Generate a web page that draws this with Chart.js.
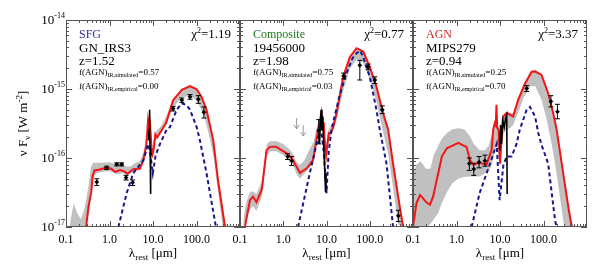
<!DOCTYPE html>
<html lang="en">
<head>
<meta charset="UTF-8">
<title>SED fits</title>
<script src="https://cdn.jsdelivr.net/npm/chart.js@4.4.1/dist/chart.umd.min.js"></script>
<style>
  body { margin: 0; background: #fff; }
  #wrap { position: relative; width: 608px; height: 270px; }
  #wrap canvas { position: absolute; left: 0; top: 0; }
</style>
</head>
<body>
<div id="wrap">
  <canvas id="p0" width="608" height="270"></canvas>
  <canvas id="p1" width="608" height="270"></canvas>
  <canvas id="p2" width="608" height="270"></canvas>
</div>
<script>
// axes
const xTickLabels = [0.1, 1, 10, 100];
const yTickPowers = [-14, -15, -16, -17];

// panel captions
const classNames = ['SFG', 'Composite', 'AGN'];
const sourceIds = ['GN_IRS3', '19456000', 'MIPS279'];
const redshifts = ['1.52', '1.98', '0.94'];
const fAgnSimulated = ['0.57', '0.75', '0.25'];
const fAgnEmpirical = ['0.00', '0.03', '0.70'];
const chiSquared = ['1.19', '0.77', '3.37'];

// ---- SFG: GN_IRS3 ----  [wavelength um, nuFnu W m-2]
const sfgTotal = [[0.29,1.0e-17],[0.33,2.0e-17],[0.38,3.2e-17],[0.41,5.5e-17],[0.45,6.6e-17],[0.6,6.8e-17],[0.86,7.3e-17],[1.1,7.0e-17],[1.34,6.3e-17],[1.74,6.7e-17],[2.2,6.4e-17],[2.6,5.9e-17],[3.5,6.9e-17],[5.0,7.0e-17],[6.0,9.3e-17],[7.0,1.5e-16],[7.7,3.5e-16],[8.2,2.6e-16],[8.6,3.0e-16],[9.2,1.4e-16],[9.8,1.15e-16],[10.5,1.4e-16],[11.3,2.2e-16],[12.5,2.0e-16],[15,2.4e-16],[20,3.2e-16],[29,6.9e-16],[46,9.7e-16],[71,1.1e-15],[101,9.9e-16],[131,7.7e-16],[170,5.0e-16],[243,1.8e-16],[312,4.8e-17],[452,1.0e-17]];
const sfgAgn = [[1.6,1e-17],[2.48,3.1e-17],[3.5,6e-17],[6.0,9.3e-17],[7.8,1.6e-16],[8.6,1.2e-16],[9.9,6e-17],[11.5,1.1e-16],[14.5,1.6e-16],[20.7,2.6e-16],[24.5,2.8e-16],[35,5e-16],[46,6.2e-16],[60,5.8e-16],[71,5e-16],[101,2.8e-16],[120,1.8e-16],[170,6e-17],[280,1e-17]];
const sfgBandWave = [0.12,0.15,0.18,0.22,0.27,0.33,0.38,0.42,0.5,0.7,1,1.5,2,2.5,3,4,5,6,7,7.7,8.5,9.7,11,13,16,20,30,45,70,100,150,200,250,300,400,500];
const sfgBandHigh = [1e-17,2.2e-17,1.6e-17,1.3e-17,1.9e-17,4e-17,7.5e-17,8.5e-17,8.5e-17,8.5e-17,8.7e-17,8e-17,8e-17,7.5e-17,7.5e-17,8.5e-17,9e-17,1.2e-16,2e-16,4e-16,3.5e-16,1.4e-16,2.3e-16,2.6e-16,3e-16,4e-16,7.2e-16,1.0e-15,1.1e-15,1.0e-15,6.5e-16,3.5e-16,1.6e-16,6e-17,1.5e-17,1e-17];
const sfgBandLow = [1e-17,1e-17,1e-17,1e-17,1e-17,1.5e-17,3e-17,5e-17,6e-17,6.3e-17,6.5e-17,5.8e-17,6e-17,5.6e-17,6e-17,6.5e-17,6.8e-17,9e-17,1.5e-16,3e-16,2.4e-16,1.0e-16,1.8e-16,1.9e-16,2.4e-16,3.2e-16,5.5e-16,7.5e-16,8e-16,7e-16,4e-16,2e-16,1e-16,4e-17,1e-17,1e-17];
const sfgPhot = [[0.51,4.5e-17,4.0e-17,5.0e-17],[0.86,7.2e-17,6.8e-17,7.6e-17],[1.47,8.1e-17,7.7e-17,8.5e-17],[1.9,8.1e-17,7.7e-17,8.5e-17],[2.4,5.2e-17,4.8e-17,5.6e-17],[3.4,4.4e-17,4.0e-17,4.8e-17],[29,5.2e-16,4.8e-16,5.6e-16],[46,6.9e-16,6.4e-16,7.4e-16],[71,7.7e-16,7.1e-16,8.3e-16],[110,7.1e-16,6.2e-16,8.0e-16],[148,4.6e-16,3.8e-16,5.5e-16]];
const sfgLimits = [];
const sfgIrs = [[7.9,1.8e-16],[8.1,2.6e-16],[8.3,5e-16],[8.45,2.2e-16],[8.6,1.4e-16],[8.75,3e-17],[8.9,1.3e-16],[9.1,1.1e-16]];

// ---- Composite: 19456000 ----
const compTotal = [[0.13,1e-17],[0.17,2.45e-17],[0.2,2.75e-17],[0.24,2.3e-17],[0.32,3.5e-17],[0.41,1.3e-16],[0.49,1.45e-16],[0.68,1.46e-16],[1.2,1.17e-16],[1.57,1.0e-16],[2.43,6.1e-17],[3.5,7.1e-17],[4.9,9.3e-17],[6.4,2.6e-16],[7.0,3.2e-16],[7.7,4.5e-16],[8.3,3e-16],[8.6,3.3e-16],[9.2,1.5e-16],[9.8,1.1e-16],[10.5,1.6e-16],[11.3,2.3e-16],[12.5,2.3e-16],[14.3,2.8e-16],[17.1,4.5e-16],[24.3,1.5e-15],[34.7,2.9e-15],[49.6,3.9e-15],[70.7,3.5e-15],[100,2.1e-15],[143,1.08e-15],[203,4.5e-16],[266,2.6e-16],[346,8.3e-17],[495,1.95e-17],[590,1e-17]];
const compAgn = [[2.2,1e-17],[4.1,6e-17],[6.4,2.0e-16],[7.7,2.3e-16],[8.7,1.2e-16],[10.0,3.1e-17],[11.2,1.2e-16],[13.1,2.6e-16],[20,8e-16],[29,1.7e-15],[40,2.8e-15],[49.6,3.3e-15],[60,3.6e-15],[70.7,2.9e-15],[100,1.5e-15],[143,5e-16],[170,2.6e-16],[244,8.3e-17],[346,1e-17]];
const compBandWave = [0.12,0.14,0.17,0.2,0.24,0.28,0.32,0.37,0.42,0.5,0.7,1.0,1.3,1.6,2.0,2.4,3.0,3.5,4.2,5.0,6.0,6.6,7.5,8.5,9.7,11,13,15,17,20,25,35,50,70,100,140,200,270,350,450,600];
const compBandHigh = [1.3e-17,2.3e-17,3.2e-17,3.3e-17,3.0e-17,3.8e-17,4.5e-17,9e-17,1.6e-16,1.75e-16,1.75e-16,1.6e-16,1.4e-16,1.2e-16,9e-17,8e-17,9e-17,1.1e-16,1.4e-16,1.7e-16,2.8e-16,3.5e-16,5e-16,4e-16,1.5e-16,2.5e-16,3e-16,3.6e-16,5e-16,8e-16,1.5e-15,2.8e-15,3.8e-15,3.4e-15,2.0e-15,1.1e-15,4.5e-16,2.4e-16,8e-17,2.5e-17,1e-17];
const compBandLow = [1e-17,1.3e-17,1.8e-17,2e-17,1.7e-17,2.2e-17,2.7e-17,6e-17,1.1e-16,1.25e-16,1.25e-16,1.1e-16,1.0e-16,8.5e-17,6e-17,5e-17,5.8e-17,6.5e-17,7.5e-17,9e-17,1.6e-16,2.2e-16,3.2e-16,2.2e-16,8e-17,1.6e-16,2.2e-16,2.7e-16,3.5e-16,5.5e-16,1.0e-15,2.0e-15,2.7e-15,2.4e-15,1.4e-15,7e-16,2.5e-16,1.1e-16,3.5e-17,1.1e-17,1e-17];
const compPhot = [[1.26,1.05e-16,9.5e-17,1.15e-16],[1.56,9.1e-17,7.8e-17,1.05e-16],[6.6,2.5e-16,1.6e-16,3.6e-16],[25,1.55e-15,1.4e-15,1.7e-15],[59,2.2e-15,1.35e-15,2.6e-15],[92,2.1e-15,1.9e-15,2.3e-15],[131,1.35e-15,1.2e-15,1.5e-15],[195,5e-16,4.4e-16,5.7e-16],[457,1.45e-17,1.2e-17,1.75e-17]];
const compLimits = [[2.04,3.8e-16],[2.9,3.0e-16]];
const compIrs = [[6.9,1.6e-16],[7.2,3.2e-16],[7.5,5e-16],[7.8,2.5e-16],[8.2,4e-16],[8.6,1.6e-16],[9.0,8e-17],[9.5,3.2e-17],[9.8,6e-17]];

// ---- AGN: MIPS279 ----
const agnTotal = [[0.1,1e-17],[0.12,2.2e-17],[0.145,2.9e-17],[0.17,2.6e-17],[0.2,2.3e-17],[0.245,2.1e-17],[0.29,2.75e-17],[0.38,6e-17],[0.46,1.05e-16],[0.6,1.38e-16],[0.79,1.5e-16],[1.1,1.66e-16],[1.34,1.55e-16],[1.7,1.45e-16],[2.04,9.3e-17],[2.4,8e-17],[3.4,8.5e-17],[4.9,8e-17],[6.4,1.3e-16],[7.0,2.6e-16],[7.6,3.2e-16],[8.0,3.0e-16],[8.3,5.9e-16],[8.6,2.8e-16],[9.3,2.5e-16],[10,8.3e-17],[10.8,1.8e-16],[11.9,4e-16],[14.2,4.5e-16],[20,4e-16],[26,6.9e-16],[37.6,1.2e-15],[53.6,1.78e-15],[64,1.8e-15],[90,1.6e-15],[128,8.7e-16],[167,4.5e-16],[200,2.6e-16],[284,6e-17],[372,1.95e-17],[445,1e-17]];
const agnAgn = [[2.23,1e-17],[3.4,3.1e-17],[5.9,8.3e-17],[8.4,1.6e-16],[9.8,2.45e-17],[12,8e-17],[14.2,1.05e-16],[18.5,1.05e-16],[24,1.6e-16],[28.6,2.6e-16],[41,5e-16],[48.8,5.5e-16],[64,4e-16],[76,2.3e-16],[90,1.55e-16],[128,8.3e-17],[184,1.26e-17],[200,1e-17]];
const agnBandWave = [0.1,0.12,0.15,0.2,0.25,0.3,0.38,0.46,0.6,0.8,1.1,1.5,2.0,2.5,3.4,4.5,5.5,6.5,7.5,8.3,9.0,10,11,12,14,17,20,26,35,50,65,90,120,160,200,250,300,400,500];
const agnBandHigh = [6e-17,8e-17,9e-17,7e-17,7e-17,1.1e-16,1.5e-16,1.9e-16,2.3e-16,2.6e-16,2.7e-16,2.6e-16,2.1e-16,1.6e-16,1.3e-16,1.3e-16,1.5e-16,2.2e-16,3.5e-16,4.5e-16,3e-16,1.6e-16,2.5e-16,4.2e-16,4.7e-16,4.5e-16,4.5e-16,7e-16,1.15e-15,1.8e-15,1.85e-15,1.6e-15,1.0e-15,5e-16,2.7e-16,1.1e-16,5e-17,1.5e-17,1e-17];
const agnBandLow = [1e-17,1e-17,1e-17,1e-17,1.1e-17,1.3e-17,1.6e-17,2.2e-17,3.2e-17,4.3e-17,5e-17,5.3e-17,5.4e-17,5.4e-17,5.4e-17,6e-17,6.5e-17,8e-17,1.2e-16,1.5e-16,1.2e-16,8e-17,1.4e-16,2.2e-16,2.6e-16,2.7e-16,3e-16,4.5e-16,7.5e-16,1.1e-15,1.1e-15,7e-16,3.5e-16,1.4e-16,6e-17,2.2e-17,1e-17,1e-17,1e-17];
const agnPhot = [[1.97,8.3e-17,6.6e-17,1.0e-16],[2.5,6.9e-17,5.6e-17,8.4e-17],[3.3,8.7e-17,7.2e-17,1.05e-16],[4.5,9.1e-17,7.6e-17,1.1e-16],[41,1.02e-15,9.2e-16,1.12e-15],[148,6.6e-16,5.5e-16,8e-16],[209,4.7e-16,3.7e-16,6e-16]];
const agnLimits = [];
const agnIrs = [[9.8,1.3e-16],[10.3,3e-16],[10.8,1.6e-16],[11.5,3.5e-16],[12.5,2.8e-16],[13.5,3.8e-16],[14.3,4.2e-16],[14.6,3e-17]];

const SERIF = "'Liberation Serif', 'DejaVu Serif', serif";
const RED = '#f31515', BLUE = '#16168c', GREY = '#c0c0c0';
const classColors = ['#2f2f9f', '#1c7a1c', '#d12a2a'];
const panelLeft = [66, 240, 413];
const panelRight = [240, 413, 587];

const toXY = arr => arr.map(p => ({ x: p[0], y: p[1] }));
const zip = (xs, ys) => xs.map((x, i) => ({ x, y: ys[i] }));

function rich(ctx, x, y, parts, align) {
  let w = 0;
  parts.forEach(([t, s]) => { ctx.font = s + 'px ' + SERIF; w += ctx.measureText(t).width; });
  let cx = align === 'right' ? x - w : align === 'center' ? x - w / 2 : x;
  parts.forEach(([t, s, dy, col]) => {
    ctx.font = s + 'px ' + SERIF;
    ctx.fillStyle = col || '#000';
    ctx.fillText(t, cx, y + (dy || 0));
    cx += ctx.measureText(t).width;
  });
}

const framePlugin = {
  id: 'frame',
  afterDatasetsDraw(chart, args, opts) {
    const { ctx, chartArea: a, scales: { x, y } } = chart;
    const i = opts.panel;
    ctx.save();
    ctx.textBaseline = 'alphabetic';
    ctx.textAlign = 'left';

    // error bars and upper limits
    chart.data.datasets.forEach(ds => {
      if (ds.errors) {
        ctx.strokeStyle = '#000'; ctx.lineWidth = 1;
        ds.errors.forEach((e, k) => {
          const px = x.getPixelForValue(ds.data[k].x);
          const lo = y.getPixelForValue(e[0]), hi = y.getPixelForValue(e[1]);
          ctx.beginPath();
          ctx.moveTo(px, lo); ctx.lineTo(px, hi);
          ctx.moveTo(px - 2.5, lo); ctx.lineTo(px + 2.5, lo);
          ctx.moveTo(px - 2.5, hi); ctx.lineTo(px + 2.5, hi);
          ctx.stroke();
        });
      }
      if (ds.limits) {
        ctx.strokeStyle = '#999'; ctx.lineWidth = 1;
        ds.data.forEach(d => {
          const px = x.getPixelForValue(d.x), py = y.getPixelForValue(d.y);
          ctx.beginPath();
          ctx.moveTo(px, py); ctx.lineTo(px, py + 11);
          ctx.moveTo(px - 2.5, py + 7); ctx.lineTo(px, py + 11); ctx.lineTo(px + 2.5, py + 7);
          ctx.stroke();
        });
      }
    });

    // frame and inward ticks on all sides
    ctx.strokeStyle = '#555'; ctx.lineWidth = 1;
    ctx.strokeRect(a.left + 0.5, a.top + 0.5, a.right - a.left - 1, a.bottom - a.top - 1);
    ctx.beginPath();
    for (let e = -1; e < 3; e++) for (let m = 1; m <= 9; m++) {
      const px = Math.round(x.getPixelForValue(m * Math.pow(10, e))) + 0.5;
      const len = m === 1 ? 6 : 3;
      ctx.moveTo(px, a.bottom); ctx.lineTo(px, a.bottom - len);
      ctx.moveTo(px, a.top); ctx.lineTo(px, a.top + len);
    }
    for (let e = -17; e < -14; e++) for (let m = 1; m <= 9; m++) {
      const py = Math.round(y.getPixelForValue(m * Math.pow(10, e))) + 0.5;
      const len = m === 1 ? 6 : 3;
      ctx.moveTo(a.left, py); ctx.lineTo(a.left + len, py);
      ctx.moveTo(a.right, py); ctx.lineTo(a.right - len, py);
    }
    ctx.stroke();

    // y tick labels and title on the first panel
    if (i === 0) {
      yTickPowers.forEach(p => {
        const py = y.getPixelForValue(Math.pow(10, p));
        rich(ctx, a.left - 1, py + 4, [['10', 13, 0], [String(p), 8, -6]], 'right');
      });
      ctx.save();
      ctx.translate(27, (a.top + a.bottom) / 2);
      ctx.rotate(-Math.PI / 2);
      rich(ctx, 0, 0, [['\u03bd F', 13, 0], ['\u03bd', 9, 3], [' [W m', 13, 0], ['-2', 9, -5], [']', 13, 0]], 'center');
      ctx.restore();
    }

    // x title
    rich(ctx, (a.left + a.right) / 2, 257, [['\u03bb', 13, 0], ['rest', 9, 3], [' [\u03bcm]', 13, 0]], 'center');

    // captions
    const lx = a.left + 13;
    rich(ctx, lx, a.top + 18, [[classNames[i], 12, 0, classColors[i]]]);
    rich(ctx, lx, a.top + 32, [[sourceIds[i], 13, 0]]);
    rich(ctx, lx, a.top + 45, [['z=' + redshifts[i], 13, 0]]);
    rich(ctx, lx, a.top + 55, [['f(AGN)', 9, 0], ['IR,simulated', 6, 2], ['=' + fAgnSimulated[i], 9, 0]]);
    rich(ctx, lx, a.top + 69, [['f(AGN)', 9, 0], ['IR,empirical', 6, 2], ['=' + fAgnEmpirical[i], 9, 0]]);
    rich(ctx, a.right - 9, a.top + 18, [['\u03c7', 13, 0], ['2', 8, -5], ['=' + chiSquared[i], 13, 0]], 'right');
    ctx.restore();
  }
};

const panels = [
  { total: sfgTotal, agn: sfgAgn, bw: sfgBandWave, bh: sfgBandHigh, bl: sfgBandLow, phot: sfgPhot, lim: sfgLimits, irs: sfgIrs },
  { total: compTotal, agn: compAgn, bw: compBandWave, bh: compBandHigh, bl: compBandLow, phot: compPhot, lim: compLimits, irs: compIrs },
  { total: agnTotal, agn: agnAgn, bw: agnBandWave, bh: agnBandHigh, bl: agnBandLow, phot: agnPhot, lim: agnLimits, irs: agnIrs }
];

const isLabelTick = v => xTickLabels.some(t => Math.abs(t - v) < 1e-9);

panels.forEach((d, i) => {
  new Chart(document.getElementById('p' + i), {
    type: 'line',
    data: {
      datasets: [
        { label: 'photometry', data: toXY(d.phot), errors: d.phot.map(p => [p[2], p[3]]),
          showLine: false, pointStyle: 'rectRot', pointRadius: 2.4, pointBackgroundColor: '#000', pointBorderWidth: 0 },
        { label: 'limits', data: toXY(d.lim), limits: true, showLine: false, pointRadius: 0 },
        { label: 'IRS', data: toXY(d.irs), borderColor: '#000', borderWidth: 1.6, pointRadius: 0 },
        { label: 'AGN', data: toXY(d.agn), borderColor: BLUE, borderWidth: 2, borderDash: [4, 3], pointRadius: 0 },
        { label: 'total', data: toXY(d.total), borderColor: RED, borderWidth: 2, pointRadius: 0 },
        { label: 'range', data: zip(d.bw, d.bh), borderColor: 'rgba(0,0,0,0)', borderWidth: 0, pointRadius: 0,
          fill: '+1', backgroundColor: GREY },
        { label: 'range low', data: zip(d.bw, d.bl), borderColor: 'rgba(0,0,0,0)', borderWidth: 0, pointRadius: 0, fill: false }
      ]
    },
    options: {
      responsive: false,
      animation: false,
      layout: { padding: { left: panelLeft[i], right: 608 - panelRight[i], top: 20, bottom: 0 } },
      plugins: { legend: { display: false }, tooltip: { enabled: false }, frame: { panel: i } },
      scales: {
        x: {
          type: 'logarithmic', min: 0.1, max: 1000,
          grid: { display: false, drawTicks: false }, border: { display: false },
          afterFit: s => { s.height = 43; },
          ticks: {
            autoSkip: false, maxRotation: 0, padding: 6, color: '#000',
            font: { family: SERIF, size: 12 },
            callback: v => isLabelTick(v) ? Number(v).toFixed(1) : ''
          }
        },
        y: { type: 'logarithmic', display: false, min: 1e-17, max: 1e-14 }
      }
    },
    plugins: [framePlugin]
  });
});
</script>
</body>
</html>
